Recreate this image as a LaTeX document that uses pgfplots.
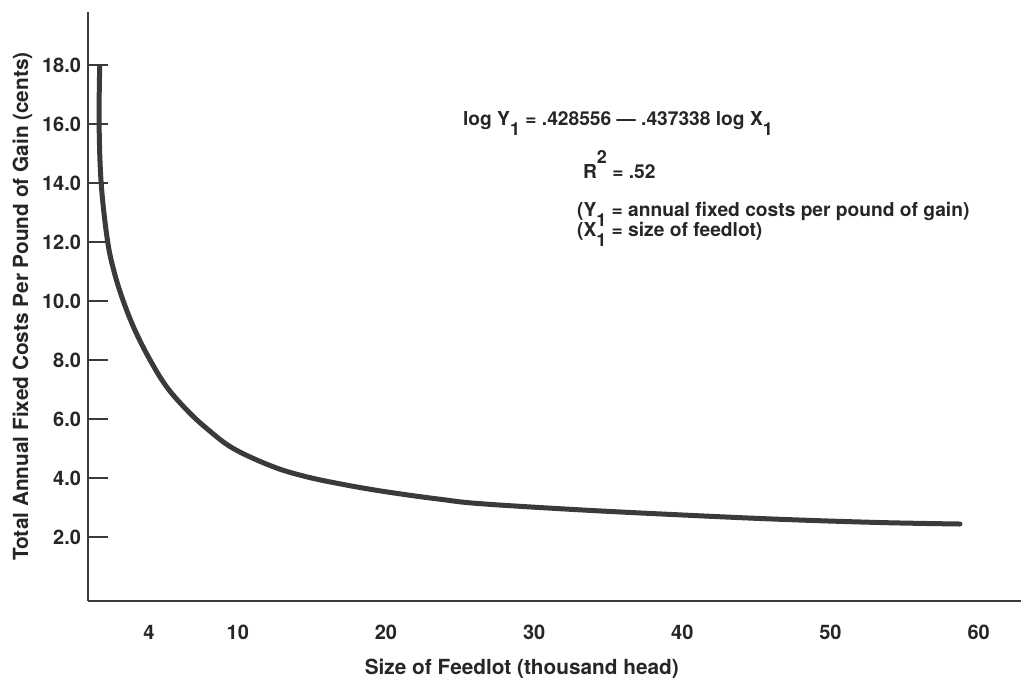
\documentclass[border=0pt]{standalone}
\usepackage{fontspec}
\setmainfont{TeX Gyre Heros}
\usepackage{pgfplots}
\pgfplotsset{compat=1.18}
\definecolor{ink}{RGB}{58,58,58}
\definecolor{txt}{RGB}{38,38,38}
\newcommand{\sub}{\raisebox{-5pt}{\fontsize{9}{10}\selectfont 1}}
\newcommand{\eqfont}{\fontsize{9.6}{11}\selectfont\bfseries}
\begin{document}
\begin{tikzpicture}
\begin{axis}[
  scale only axis, width=466.5pt, height=294.5pt,
  xmin=-0.11, xmax=62.86, ymin=-0.17, ymax=19.8,
  axis x line*=bottom, axis y line*=left,
  axis line style={draw=ink, line width=1pt, -},
  xtick={4,10,20,30,40,50,60},
  xticklabels={4,10,20,30,40,50,60},
  xtick style={draw=none},
  ytick={2,4,6,8,10,12,14,16,18},
  yticklabels={2.0,4.0,6.0,8.0,10.0,12.0,14.0,16.0,18.0},
  ytick style={draw=ink, line width=1pt},
  tick align=inside,
  major tick length=10pt,
  ticklabel style={font=\fontsize{10}{12}\selectfont\bfseries, text=txt},
  xticklabel style={anchor=base, yshift=-19.5pt},
  xlabel={Size of Feedlot (thousand head)},
  ylabel={Total Annual Fixed Costs Per Pound of Gain (cents)},
  label style={font=\fontsize{10.4}{12}\selectfont\bfseries, text=txt},
  xlabel style={at={(axis description cs:0.465,-0.124)}, anchor=base},
  ylabel style={at={(axis description cs:-0.0643,0.5)}, anchor=base},
  clip=false,
]
\addplot[smooth, tension=0.6, line width=2.5pt, color=ink, line cap=round] coordinates {
(0.68,17.94) (0.64,16.02) (0.78,13.99) (1.2,12.07) (1.65,11.0) (2.25,10.03)
(3.05,9.02) (4.08,8.00) (5.20,7.09) (6.55,6.31) (7.90,5.68)
(9.70,5.00) (12.40,4.38) (14.65,4.04) (16.92,3.80) (19.15,3.60)
(21.40,3.43) (23.65,3.28) (26.35,3.13) (33.10,2.92) (39.84,2.75)
(46.59,2.60) (53.35,2.49) (58.74,2.44)
};
\node[anchor=base west, inner sep=0, font=\eqfont, text=txt] at (rel axis cs:0.4016,0.8081)
  {log Y\sub{} = .428556 — .437338 log X\sub};
\node[anchor=base west, inner sep=0, font=\eqfont, text=txt] at (rel axis cs:0.5302,0.7165)
  {R\raisebox{7.5pt}{\fontsize{9}{10}\selectfont 2} = .52};
\node[anchor=base west, inner sep=0, font=\eqfont, text=txt] at (rel axis cs:0.5238,0.6525)
  {(Y\sub{} = annual fixed costs per pound of gain)};
\node[anchor=base west, inner sep=0, font=\eqfont, text=txt] at (rel axis cs:0.5238,0.6185)
  {(X\sub{} = size of feedlot)};
\end{axis}
\pgfresetboundingbox
\path[use as bounding box] (-44pt,-38.5pt) rectangle (466.5pt,300.5pt);
\end{tikzpicture}
\end{document}
